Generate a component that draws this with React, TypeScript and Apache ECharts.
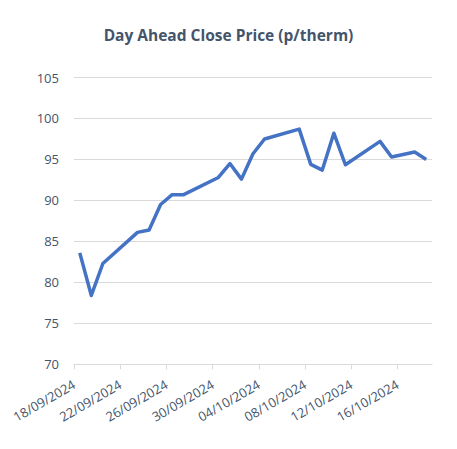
import React, { useEffect, useRef } from "react";
import * as echarts from "echarts";

const startDate = "18/09/2024";
const dates = [
  "18/09/2024", "19/09/2024", "20/09/2024", "23/09/2024", "24/09/2024", "25/09/2024",
  "26/09/2024", "27/09/2024", "30/09/2024", "01/10/2024", "02/10/2024", "03/10/2024",
  "04/10/2024", "07/10/2024", "08/10/2024", "09/10/2024", "10/10/2024", "11/10/2024",
  "14/10/2024", "15/10/2024", "17/10/2024", "18/10/2024",
];
const prices = [
  83.6, 78.4, 82.3, 86.1, 86.4, 89.5,
  90.7, 90.7, 92.8, 94.5, 92.6, 95.7,
  97.5, 98.7, 94.4, 93.7, 98.2, 94.35,
  97.2, 95.3, 95.9, 95.0,
];
const tickLabels = [
  "18/09/2024", "22/09/2024", "26/09/2024", "30/09/2024",
  "04/10/2024", "08/10/2024", "12/10/2024", "16/10/2024",
];
const totalDays = 31;

const DAY = 86400000;
function parse(d: string): number {
  const [dd, mm, yy] = d.split("/").map(Number);
  return Date.UTC(yy, mm - 1, dd);
}
function offset(d: string): number {
  return Math.round((parse(d) - parse(startDate)) / DAY);
}

export default function App() {
  const ref = useRef<HTMLDivElement>(null);
  useEffect(() => {
    document.body.style.margin = "0";
    if (!ref.current) return;
    const chart = echarts.init(ref.current, null, { renderer: "svg" });
    const tickValues = tickLabels.map(offset);
    const labelMap: Record<number, string> = {};
    tickLabels.forEach((t) => (labelMap[offset(t)] = t));
    const font = "'Open Sans', 'Noto Sans', sans-serif";
    chart.setOption({
      animation: false,
      title: {
        text: "Day Ahead Close Price (p/therm)",
        left: "center",
        top: 22,
        textStyle: { fontSize: 15.5, fontWeight: "bold", color: "#44546A", fontFamily: font },
      },
      grid: { left: 74, right: 25, top: 77.5, bottom: 84.7, containLabel: false, outerBoundsMode: "none" },
      xAxis: {
        type: "value",
        min: 0,
        max: totalDays,
        splitLine: { show: false },
        axisLine: { show: true, lineStyle: { color: "#D9D9D9", width: 1 } },
        axisTick: { show: true, customValues: tickValues, length: 5, lineStyle: { color: "#D9D9D9" } },
        axisLabel: {
          customValues: tickValues,
          formatter: (v: number) => labelMap[Math.round(v)] ?? "",
          rotate: 30,
          margin: 19,
          fontSize: 13,
          color: "#44546A",
          fontFamily: font,
        },
      },
      yAxis: {
        type: "value",
        min: 70,
        max: 105,
        interval: 5,
        axisLine: { show: false },
        axisTick: { show: false },
        splitLine: { lineStyle: { color: "#D9D9D9", width: 1 } },
        axisLabel: { margin: 15, fontSize: 13, color: "#44546A", fontFamily: font },
      },
      series: [
        {
          type: "line",
          data: dates.map((d, i) => [offset(d) + 0.5, prices[i]]),
          showSymbol: false,
          symbol: "none",
          lineStyle: { color: "#4472C4", width: 3.5, join: "round" },
          itemStyle: { color: "#4472C4" },
        },
      ],
    });
    return () => chart.dispose();
  }, []);
  return <div ref={ref} style={{ width: 457, height: 449 }} />;
}
